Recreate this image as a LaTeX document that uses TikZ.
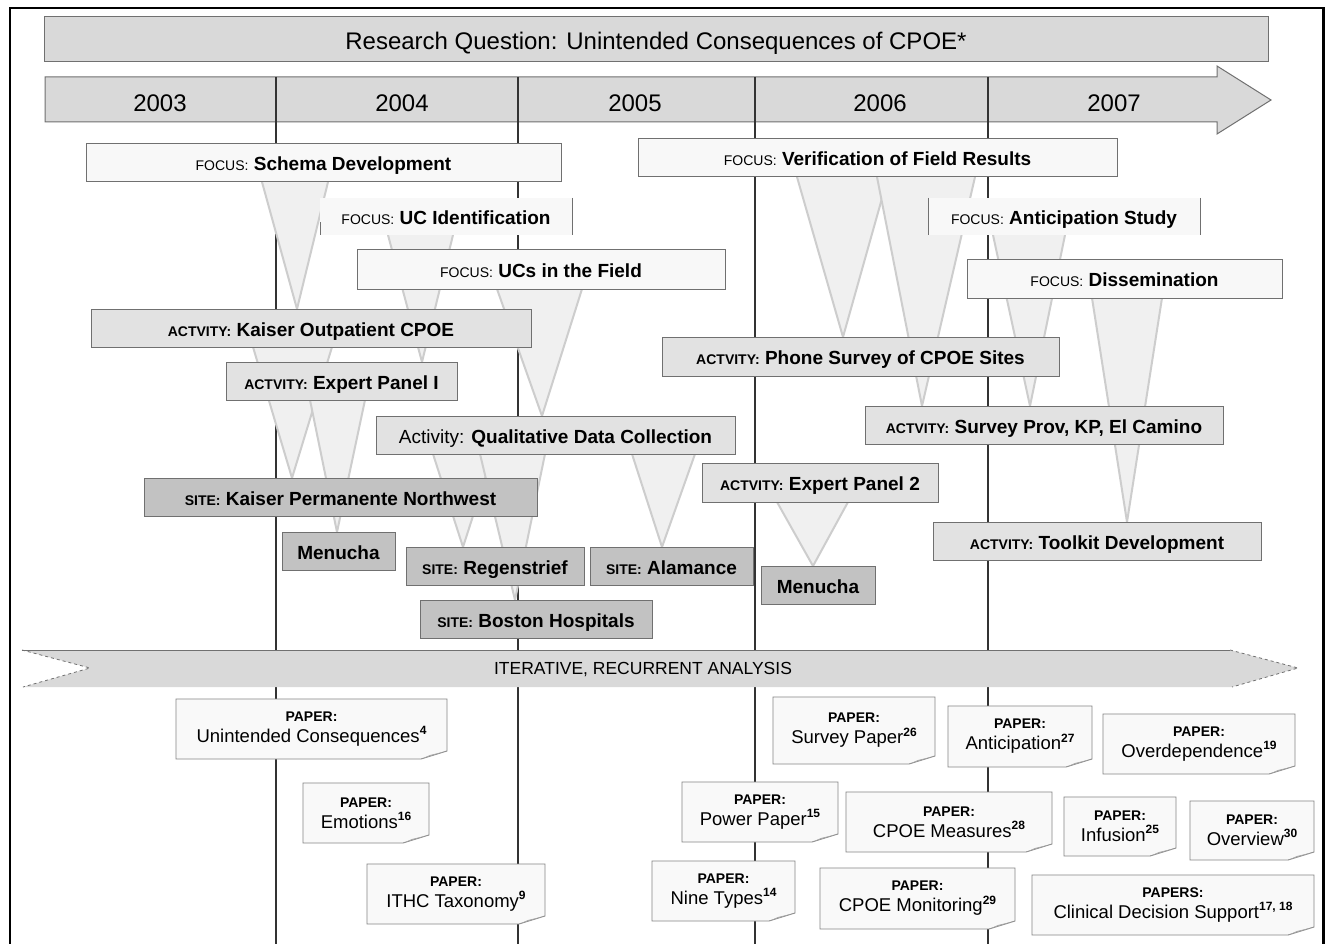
\documentclass[tikz,border=0pt]{standalone}
\usepackage{fontspec}
\setmainfont{Liberation Sans}
\usetikzlibrary{calc}
\pgfdeclarelayer{bg}\pgfdeclarelayer{fun}\pgfdeclarelayer{pbg}
\pgfsetlayers{bg,fun,pbg,main}
\definecolor{barfill}{HTML}{D9D9D9}
\definecolor{focfill}{HTML}{F8F8F8}
\definecolor{actfill}{HTML}{E2E2E2}
\definecolor{sitefill}{HTML}{C2C2C2}
\definecolor{edge}{HTML}{707070}
\definecolor{funfill}{HTML}{F0F0F0}
\definecolor{funline}{HTML}{CDCDCD}
\definecolor{paperfill}{HTML}{F9F9F9}
\definecolor{paperedge}{HTML}{858585}
\definecolor{curlcol}{HTML}{A8A8A8}

\newcommand\lab[1]{{\fontsize{14}{14}\selectfont #1}}
\newcommand\blab[1]{{\fontsize{14}{14}\selectfont\bfseries #1}}
\newcommand\sups[1]{\raisebox{0.42em}{\fontsize{12}{12}\selectfont\bfseries #1}}

\tikzset{
 base/.style={inner sep=0pt, outer sep=0pt, anchor=north west, line width=1pt},
 bx/.style={base, font=\fontsize{19}{22}\selectfont, text height=16.5pt, text depth=0.5pt},
 qbar/.style={base, fill=barfill, draw=edge, font=\fontsize{24}{28}\selectfont, text height=21pt, text depth=0.8pt},
 focusbox/.style={bx, fill=focfill, draw=edge},
 openbox/.style={bx, fill=focfill},
 actbox/.style={bx, fill=actfill, draw=edge},
 sitebox/.style={bx, fill=sitefill, draw=edge},
 paperbox/.style={base, align=center, font=\fontsize{18.5}{21}\selectfont},
 funnelst/.style={fill=funfill, draw=funline, line width=2pt, line join=round},
 yearline/.style={draw=black!80, line width=1.2pt},
 yearlab/.style={font=\fontsize{24}{28}\selectfont, inner sep=0pt},
 sideline/.style={draw=edge, line width=1pt},
}
\newcommand\bx[7]{\node[#1, minimum width={(#5-#3)*1pt}, minimum height={(#6-#4)*1pt}] (#2) at (#3,#4) {#7};}
\newcommand\funnel[5]{%
 \coordinate (fA) at (#2,0); \coordinate (fB) at (#3,0); \coordinate (fC) at (#5,0);
 \begin{pgfonlayer}{fun}
 \filldraw[funnelst] (#1.south -| fA) -- (#4.north -| fC) -- (#1.south -| fB);
 \end{pgfonlayer}}
\newcommand\paper[8]{%
 \node[paperbox, minimum width={(#4-#2)*1pt}, minimum height={(#5-#3)*1pt}] (#1) at (#2,#3) {\blab{#6}\\#7\sups{#8}};
 \begin{pgfonlayer}{pbg}
 \filldraw[fill=paperfill, draw=paperedge, line width=0.9pt] (#1.south west) -- (#1.north west) -- (#1.north east) -- ([yshift=8pt]#1.south east) -- ([xshift=-26pt]#1.south east) -- cycle;
 \fill[curlcol] ([yshift=8pt]#1.south east) -- ([xshift=-26pt]#1.south east) -- ([xshift=-17pt,yshift=4pt]#1.south east) -- cycle;
 \end{pgfonlayer}}

\begin{document}
\begin{tikzpicture}[x=1pt,y=-1pt]
\useasboundingbox (0,0) rectangle (1331,944);
\begin{pgfonlayer}{bg}
\fill[white] (0,0) rectangle (1331,944);
\end{pgfonlayer}

% frame
\draw[line width=2.5pt] (10,944) -- (10,8) -- (1323.5,8) -- (1323.5,944);

% research question
\bx{qbar}{rq}{44}{17}{1268}{62}{Research Question: Unintended Consequences of CPOE*}

% year arrow and lines
\begin{pgfonlayer}{bg}
\filldraw[fill=barfill, draw=edge, line width=1pt] (45,77) -- (1217,77) -- (1217,66) -- (1271,100) -- (1217,134) -- (1217,122) -- (45,122) -- cycle;
\foreach \xx in {276,518,755,988} {\draw[yearline] (\xx,77) -- (\xx,944);}
\end{pgfonlayer}
\node[yearlab] (y3) at (160,103) {2003};
\node[yearlab] (y4) at (402,103) {2004};
\node[yearlab] (y5) at (635,103) {2005};
\node[yearlab] (y6) at (880,103) {2006};
\node[yearlab] (y7) at (1114,103) {2007};

% focus boxes
\bx{focusbox}{schema}{86}{144}{561}{182}{\lab{FOCUS:} \textbf{Schema Development}}
\bx{openbox}{ucid}{320}{198}{572}{235}{\lab{FOCUS:} \textbf{UC Identification}}
\draw[sideline] (ucid.north east) -- (ucid.south east);
\draw[sideline] (ucid.south west) -- ++(0,-13);
\bx{focusbox}{ucfield}{357}{250}{725}{289}{\lab{FOCUS:} \textbf{UCs in the Field}}
\bx{focusbox}{verif}{638}{139}{1117}{177}{\lab{FOCUS:} \textbf{Verification of Field Results}}
\bx{openbox}{antic}{928}{198}{1200}{235}{\lab{FOCUS:} \textbf{Anticipation Study}}
\draw[sideline] (antic.north east) -- (antic.south east);
\draw[sideline] (antic.north west) -- (antic.south west);
\bx{focusbox}{dissem}{967}{260}{1282}{298}{\lab{FOCUS:} \textbf{Dissemination}}

% activity boxes
\bx{actbox}{kop}{91}{309}{531}{347}{\blab{ACTVITY:} \textbf{Kaiser Outpatient CPOE}}
\bx{actbox}{ep1}{226}{362}{457}{400}{\blab{ACTVITY:} \textbf{Expert Panel I}}
\bx{actbox}{qual}{376}{416}{735}{454}{Activity: \textbf{Qualitative Data Collection}}
\bx{actbox}{phone}{662}{337}{1059}{376}{\blab{ACTVITY:} \textbf{Phone Survey of CPOE Sites}}
\bx{actbox}{survprov}{865}{406}{1223}{444}{\blab{ACTVITY:} \textbf{Survey Prov, KP, El Camino}}
\bx{actbox}{ep2}{702}{463}{938}{502}{\blab{ACTVITY:} \textbf{Expert Panel 2}}
\bx{actbox}{toolkit}{933}{522}{1261}{560}{\blab{ACTVITY:} \textbf{Toolkit Development}}

% site boxes
\bx{sitebox}{kpnw}{144}{478}{537}{516}{\blab{SITE:} \textbf{Kaiser Permanente Northwest}}
\bx{sitebox}{menA}{282}{532}{395}{570}{\textbf{Menucha}}
\bx{sitebox}{regen}{406}{547}{584}{585}{\blab{SITE:} \textbf{Regenstrief}}
\bx{sitebox}{alam}{590}{547}{753}{585}{\blab{SITE:} \textbf{Alamance}}
\bx{sitebox}{boston}{420}{600}{652}{638}{\blab{SITE:} \textbf{Boston Hospitals}}
\bx{sitebox}{menB}{761}{566}{875}{604}{\textbf{Menucha}}

% funnels
\funnel{schema}{262}{328}{kop}{297}
\funnel{ucid}{388}{453}{ep1}{422}
\funnel{ucfield}{497}{582}{qual}{542}
\funnel{kop}{253}{332}{kpnw}{292}
\funnel{ep1}{310}{365}{menA}{337}
\funnel{qual}{433}{493}{regen}{463}
\funnel{qual}{480}{545}{boston}{515}
\funnel{qual}{632}{695}{alam}{662}
\funnel{ep2}{777}{848}{menB}{813}
\funnel{verif}{797}{888}{phone}{843}
\funnel{verif}{877}{975}{survprov}{922}
\funnel{antic}{993}{1065}{survprov}{1030}
\funnel{dissem}{1092}{1162}{toolkit}{1127}

% iterative analysis arrow
\fill[barfill] (22,650) -- (1230,650) -- (1298,668) -- (1232,687) -- (23,687) -- (90,668) -- cycle;
\draw[edge, line width=1pt] (22,650) -- (1230,650);
\draw[edge, line width=0.8pt, dashed] (22,650) -- (90,668) -- (23,687);
\draw[edge, line width=0.8pt, dashed] (1230,650) -- (1298,668) -- (1232,687);
\node[font=\fontsize{17.5}{20}\selectfont, inner sep=0pt] (iter) at (643,670) {ITERATIVE, RECURRENT ANALYSIS};

% papers
\paper{pA}{176}{699}{447}{759}{PAPER:}{Unintended Consequences}{4}
\paper{pB}{303}{783}{429}{843}{PAPER:}{Emotions}{16}
\paper{pC}{367}{864}{545}{924}{PAPER:}{ITHC Taxonomy}{9}
\paper{pD}{773}{697}{935}{764}{PAPER:}{Survey Paper}{26}
\paper{pE}{948}{706}{1092}{767}{PAPER:}{Anticipation}{27}
\paper{pF}{1103}{714}{1295}{774}{PAPER:}{Overdependence}{19}
\paper{pG}{682}{782}{838}{842}{PAPER:}{Power Paper}{15}
\paper{pH}{846}{792}{1052}{852}{PAPER:}{CPOE Measures}{28}
\paper{pI}{1064}{797}{1176}{856}{PAPER:}{Infusion}{25}
\paper{pJ}{1190}{801}{1314}{860}{PAPER:}{Overview}{30}
\paper{pK}{652}{861}{795}{921}{PAPER:}{Nine Types}{14}
\paper{pL}{820}{868}{1015}{929}{PAPER:}{CPOE Monitoring}{29}
\paper{pM}{1032}{875}{1314}{935}{PAPERS:}{Clinical Decision Support}{17, 18}
\end{tikzpicture}
\end{document}
